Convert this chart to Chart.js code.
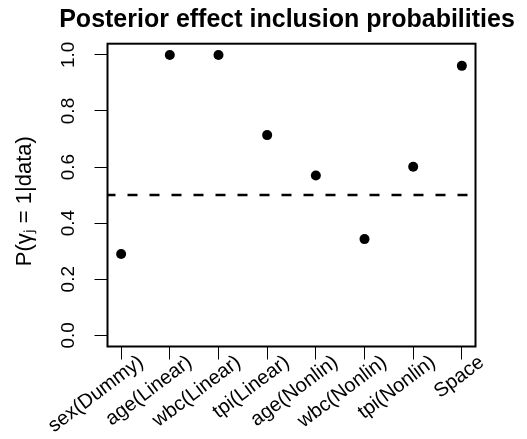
<!DOCTYPE html>
<html>
<head>
<meta charset="utf-8">
<script src="https://cdn.jsdelivr.net/npm/chart.js@4"></script>
<style>
	html, body { margin: 0; padding: 0; background: #fff; }
	#wrap { width: 527px; height: 439px; }
</style>
</head>
<body>
<div id="wrap"><canvas id="chart" width="527" height="439"></canvas></div>
<script>
const chartTitle = 'Posterior effect inclusion probabilities'
// two trailing spaces nudge the centred label a little lower, as in R
const yTitle = 'P(\u03b3\u2c7c = 1|data)  '

const categories = ['sex(Dummy)', 'age(Linear)', 'wbc(Linear)', 'tpi(Linear)', 'age(Nonlin)', 'wbc(Nonlin)', 'tpi(Nonlin)', 'Space']
const inclusionProb = [0.29, 1.0, 1.0, 0.714, 0.570, 0.343, 0.601, 0.961]
const threshold = 0.5

const yTickValues = [0, 0.2, 0.4, 0.6, 0.8, 1.0]
const yTickLabels = ['0.0', '0.2', '0.4', '0.6', '0.8', '1.0']

// R style axis limits (4% extension)
const xMin = 0.72
const xMax = 8.28
const yMin = -0.04
const yMax = 1.04

const FONT = "'Liberation Sans', Arial, sans-serif"

// main title, drawn by hand so canvas doesn't squeeze it to the plot width
const titlePlugin = {
	id: 'mainTitle',
	afterDraw(chart) {
		const { ctx } = chart
		ctx.save()
		ctx.fillStyle = '#000'
		ctx.font = `bold 25px ${FONT}`
		ctx.textAlign = 'center'
		ctx.textBaseline = 'alphabetic'
		ctx.fillText(chartTitle, 287, 26.7)
		ctx.restore()
	}
}

// box around the plot region, like R's box()
const boxPlugin = {
	id: 'box',
	afterDraw(chart) {
		const { ctx, chartArea } = chart
		ctx.save()
		ctx.strokeStyle = '#000'
		ctx.lineWidth = 2
		ctx.strokeRect(chartArea.left, chartArea.top, chartArea.right - chartArea.left, chartArea.bottom - chartArea.top)
		ctx.restore()
	}
}

const ctx = document.getElementById('chart')

new Chart(ctx, {
	type: 'scatter',
	data: {
		datasets: [
			{
				label: 'inclusion',
				data: inclusionProb.map((v, i) => ({ x: i + 1, y: v })),
				pointRadius: 5,
				pointBackgroundColor: '#000',
				pointBorderWidth: 0
			},
			{
				label: 'threshold',
				data: [{ x: xMin, y: threshold }, { x: xMax, y: threshold }],
				showLine: true,
				borderColor: '#000',
				borderWidth: 2.5,
				borderDash: [10, 12],
				borderDashOffset: 2,
				pointRadius: 0
			}
		]
	},
	options: {
		responsive: false,
		devicePixelRatio: 1,
		animation: false,
		events: [],
		layout: { padding: { left: 0, top: 43.7, right: 51.5, bottom: 0 } },
		plugins: {
			legend: { display: false },
			tooltip: { enabled: false },
			title: { display: false }
		},
		scales: {
			x: {
				type: 'linear',
				min: xMin,
				max: xMax,
				afterBuildTicks: (scale) => {
					scale.ticks = categories.map((c, i) => ({ value: i + 1 }))
				},
				afterFit: (scale) => { scale.height = 92.5 },
				border: { display: false },
				grid: { drawOnChartArea: false, drawTicks: true, tickLength: 13, color: '#000', lineWidth: 1 },
				ticks: {
					color: '#000',
					font: { family: FONT, size: 20 },
					minRotation: 37,
					maxRotation: 37,
					autoSkip: false,
					padding: -9,
					labelOffset: 20,
					callback: (value, index) => categories[index]
				}
			},
			y: {
				type: 'linear',
				min: yMin,
				max: yMax,
				afterBuildTicks: (scale) => {
					scale.ticks = yTickValues.map((v) => ({ value: v }))
				},
				afterFit: (scale) => { scale.width = 107.5 },
				border: { display: false },
				grid: { drawOnChartArea: false, drawTicks: true, tickLength: 13, color: '#000', lineWidth: 1 },
				title: {
					display: true,
					text: yTitle,
					color: '#000',
					font: { family: FONT, size: 22 },
					padding: { top: 11.5, bottom: 0 }
				},
				ticks: {
					color: '#000',
					font: { family: FONT, size: 19 },
					minRotation: 90,
					maxRotation: 90,
					crossAlign: 'center',
					padding: 12.5,
					callback: (value, index) => yTickLabels[index]
				}
			}
		}
	},
	plugins: [titlePlugin, boxPlugin]
})
</script>
</body>
</html>
